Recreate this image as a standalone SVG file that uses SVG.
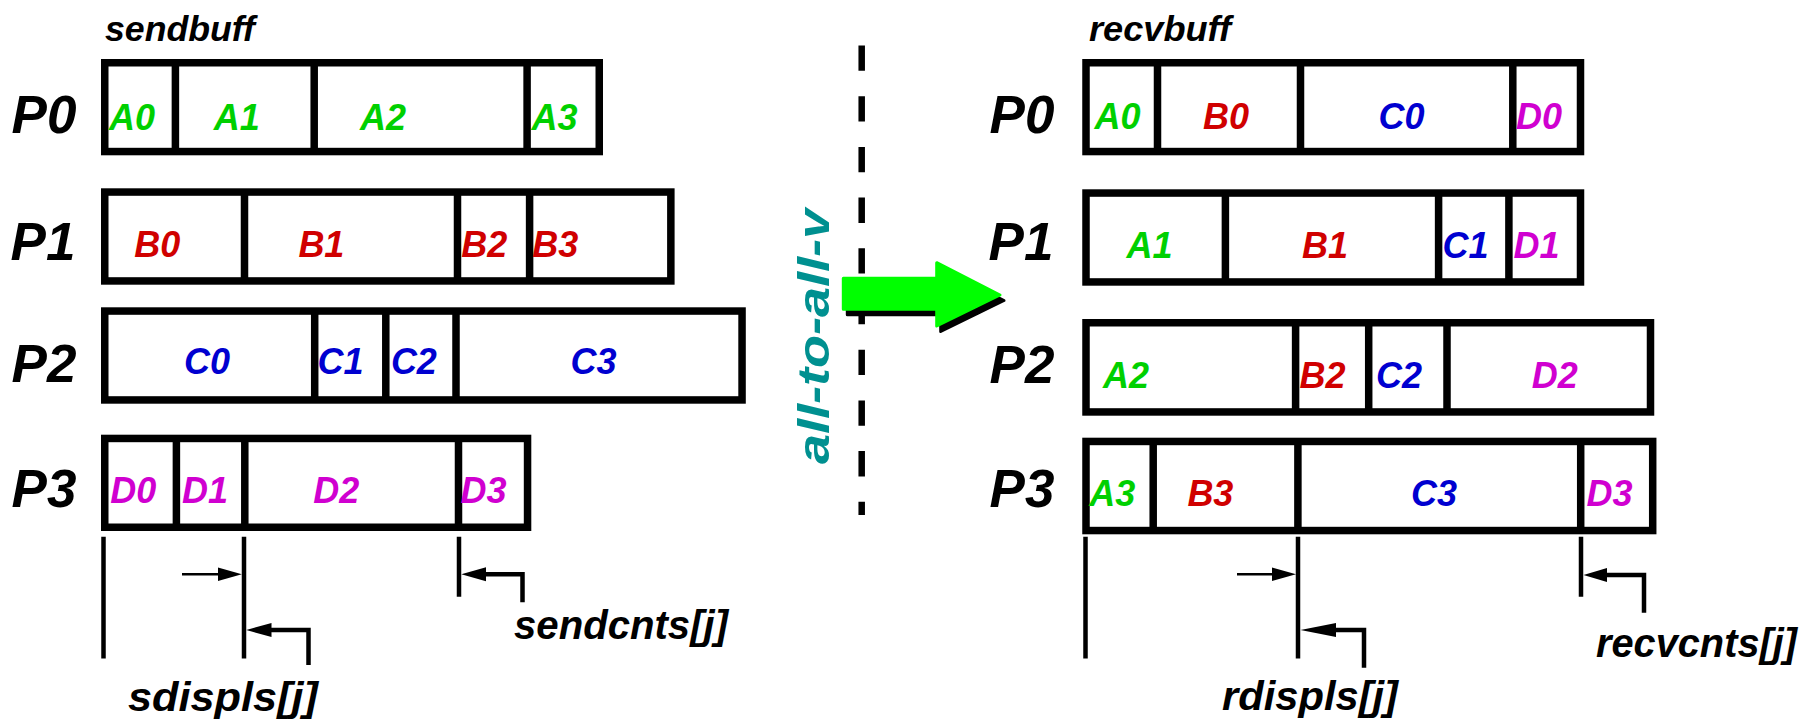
<svg xmlns="http://www.w3.org/2000/svg" width="1800" height="725" viewBox="0 0 1800 725">
<style>
.t{font-family:"Liberation Sans",Arial,Helvetica,sans-serif;font-weight:bold;font-style:italic}
.p{font-size:53px;fill:#000;text-anchor:middle}
.c{font-size:36px;text-anchor:middle}
.h{font-size:35px;fill:#000}
.l{font-size:40px;fill:#000}
.g{fill:#00d000}.r{fill:#d00000}.b{fill:#0000d0}.m{fill:#d000d0}
.box{fill:#fff;stroke:#000;stroke-width:7.5}
.dv{stroke:#000;stroke-width:7.5}
.dim{stroke:#000;stroke-width:4.5;fill:none}
.thin{stroke:#000;stroke-width:2.5;fill:none}
.ah{fill:#000}
</style>
<rect width="1800" height="725" fill="#fff"/>

<text class="t h" x="105" y="40.7" textLength="150" lengthAdjust="spacingAndGlyphs">sendbuff</text>
<text class="t h" x="1089" y="40.7" textLength="142" lengthAdjust="spacingAndGlyphs">recvbuff</text>

<!-- send side -->
<g id="send-P0">
<text class="t p" x="44" y="133.3">P0</text>
<rect class="box" x="104.75" y="62.75" width="494.5" height="88.8"/>
<path class="dv" d="M175.4 62.75V151.55M314.2 62.75V151.55M527.1 62.75V151.55"/>
<text class="t c g" x="132" y="130">A0</text>
<text class="t c g" x="236.8" y="130">A1</text>
<text class="t c g" x="383" y="130">A2</text>
<text class="t c g" x="554.5" y="130">A3</text>
</g>
<g id="send-P1">
<text class="t p" x="43" y="260">P1</text>
<rect class="box" x="104.75" y="192.05" width="566.1" height="88.9"/>
<path class="dv" d="M244.5 192V281M457.5 192V281M529.6 192V281"/>
<text class="t c r" x="157.2" y="256.7">B0</text>
<text class="t c r" x="321.4" y="256.7">B1</text>
<text class="t c r" x="484.3" y="256.7">B2</text>
<text class="t c r" x="555.2" y="256.7">B3</text>
</g>
<g id="send-P2">
<text class="t p" x="44" y="382.3">P2</text>
<rect class="box" x="104.75" y="311.05" width="637.3" height="88.9"/>
<path class="dv" d="M314.7 311V400M385.8 311V400M456 311V400"/>
<text class="t c b" x="207" y="374">C0</text>
<text class="t c b" x="340.5" y="374">C1</text>
<text class="t c b" x="413.9" y="374">C2</text>
<text class="t c b" x="593.5" y="374">C3</text>
</g>
<g id="send-P3">
<text class="t p" x="44" y="507.3">P3</text>
<rect class="box" x="104.75" y="438.45" width="422.8" height="88.8"/>
<path class="dv" d="M176.4 438.4V527.3M244.8 438.4V527.3M458.5 438.4V527.3"/>
<text class="t c m" x="133.3" y="503.3">D0</text>
<text class="t c m" x="205" y="503.3">D1</text>
<text class="t c m" x="336.3" y="503.3">D2</text>
<text class="t c m" x="483.6" y="503.3">D3</text>
</g>

<!-- recv side -->
<g id="recv-P0">
<text class="t p" x="1022" y="133.3">P0</text>
<rect class="box" x="1086" y="62.75" width="494.5" height="88.8"/>
<path class="dv" d="M1157.5 62.75V151.55M1300.5 62.75V151.55M1512.8 62.75V151.55"/>
<text class="t c g" x="1117.5" y="129">A0</text>
<text class="t c r" x="1226" y="129">B0</text>
<text class="t c b" x="1401.5" y="129">C0</text>
<text class="t c m" x="1539" y="129">D0</text>
</g>
<g id="recv-P1">
<text class="t p" x="1021" y="260">P1</text>
<rect class="box" x="1086" y="193.05" width="494.5" height="88.9"/>
<path class="dv" d="M1225.4 193V282M1438.6 193V282M1508.9 193V282"/>
<text class="t c g" x="1149.5" y="258.3">A1</text>
<text class="t c r" x="1325" y="258.3">B1</text>
<text class="t c b" x="1465.5" y="258.3">C1</text>
<text class="t c m" x="1536.5" y="258.3">D1</text>
</g>
<g id="recv-P2">
<text class="t p" x="1022" y="382.7">P2</text>
<rect class="box" x="1086" y="322.75" width="564.5" height="89.2"/>
<path class="dv" d="M1295.6 322.7V412M1368.7 322.7V412M1447 322.7V412"/>
<text class="t c g" x="1126" y="388">A2</text>
<text class="t c r" x="1322.5" y="388">B2</text>
<text class="t c b" x="1399" y="388">C2</text>
<text class="t c m" x="1554.7" y="388">D2</text>
</g>
<g id="recv-P3">
<text class="t p" x="1022" y="506.7">P3</text>
<rect class="box" x="1086" y="441.45" width="566.7" height="89.1"/>
<path class="dv" d="M1153.2 441.4V530.5M1297.9 441.4V530.5M1580.7 441.4V530.5"/>
<text class="t c g" x="1112.2" y="506">A3</text>
<text class="t c r" x="1210.4" y="506">B3</text>
<text class="t c b" x="1434" y="506">C3</text>
<text class="t c m" x="1609.6" y="506">D3</text>
</g>

<!-- divider and transfer arrow -->
<g id="separator">
<path d="M861.7 45.5V515" stroke="#000" stroke-width="6.5" stroke-dasharray="25.3 25.4" fill="none"/>
</g>
<g id="transfer-arrow">
<polygon points="843.3,278.3 936.7,278.3 936.7,262.7 1000,295 936.7,326 936.7,309.3 843.3,309.3" transform="translate(4 5.5)" fill="#000" stroke="#000" stroke-width="3" stroke-linejoin="round"/>
<polygon points="843.3,278.3 936.7,278.3 936.7,262.7 1000,295 936.7,326 936.7,309.3 843.3,309.3" fill="#00ff00" stroke="#00ff00" stroke-width="3" stroke-linejoin="round"/>
<text class="t" transform="translate(829 464) rotate(-90)" font-size="44" fill="#009090" textLength="255" lengthAdjust="spacingAndGlyphs">all-to-all-v</text>
</g>

<!-- dimension connectors -->
<g id="connectors">
<path class="dim" d="M103.5 536.7V658.5M244 536.7V658.5M459 536.7V596.7"/>
<path class="thin" d="M182 574.3H220"/>
<polygon class="ah" points="218,567.5 241.8,574.3 218,581.1"/>
<path class="dim" d="M308.5 665V630H268"/>
<polygon class="ah" points="246.3,630 271.5,623 271.5,637"/>
<path class="dim" d="M522.5 602.3V574.3H484"/>
<polygon class="ah" points="461.3,574.3 486,567.3 486,581.3"/>

<path class="dim" d="M1085.5 536.7V658.5M1298 536.7V658.5M1581 536.7V596.7"/>
<path class="thin" d="M1237 574.3H1274"/>
<polygon class="ah" points="1272,567.5 1296,574.3 1272,581.1"/>
<path class="dim" d="M1364 667.7V630H1334"/>
<polygon class="ah" points="1300.5,630 1336,623 1336,637"/>
<path class="dim" d="M1644 612.7V575H1605"/>
<polygon class="ah" points="1583.5,575 1607,568 1607,582"/>
</g>

<g id="labels">
<text class="t l" x="514" y="639" textLength="214" lengthAdjust="spacingAndGlyphs">sendcnts[j]</text>
<text class="t l" x="128" y="711" textLength="190" lengthAdjust="spacingAndGlyphs">sdispls[j]</text>
<text class="t l" x="1596" y="657" textLength="201" lengthAdjust="spacingAndGlyphs">recvcnts[j]</text>
<text class="t l" x="1222" y="710" textLength="176" lengthAdjust="spacingAndGlyphs">rdispls[j]</text>
</g>
</svg>
